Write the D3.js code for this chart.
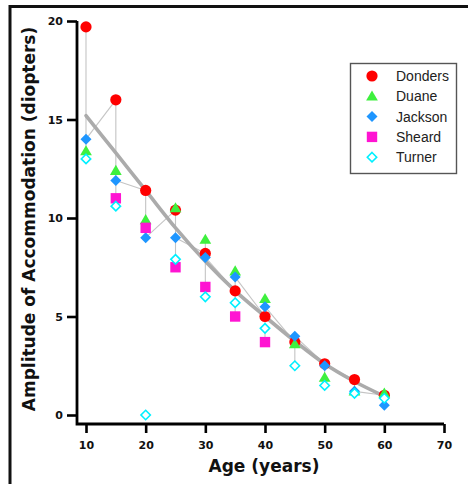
<!DOCTYPE html>
<html>
<head>
<meta charset="utf-8">
<script src="https://cdn.jsdelivr.net/npm/d3@7"></script>
<style>
  html, body { margin: 0; padding: 0; background: #fff; }
  svg { display: block; }
</style>
</head>
<body>
<svg id="chart" width="468" height="484"></svg>
<script>
// 데이터
const ages = [10, 15, 20, 25, 30, 35, 40, 45, 50, 55, 60];
const donders = [19.7, 16.0, 11.4, 10.4, 8.2, 6.3, 5.0, 3.7, 2.6, 1.8, 1.0];
const duane = [13.4, 12.4, 9.9, 10.5, 8.9, 7.3, 5.9, 3.6, 1.9, 1.2, 1.1];
const jackson = [14.0, 11.9, 9.0, 9.0, 8.0, 7.0, 5.5, 4.0, 2.5, 1.2, 0.5];
const sheard = [null, 11.0, 9.5, 7.5, 6.5, 5.0, 3.7, null, null, null, null];
const turner = [13.0, 10.6, 0.0, 7.9, 6.0, 5.7, 4.4, 2.5, 1.5, 1.1, 0.85];
const fit = [15.2, 13.3, 11.4, 9.5, 7.8, 6.3, 5.0, 3.75, 2.6, 1.7, 0.95];

const seriesNames = ['Donders', 'Duane', 'Jackson', 'Sheard', 'Turner'];
const xTicks = [10, 20, 30, 40, 50, 60, 70];
const yTicks = [0, 5, 10, 15, 20];

const svg = d3.select('#chart');

// 스케일
const x = d3.scaleLinear().domain([10, 70]).range([86, 444]);
const y = d3.scaleLinear().domain([0, 20]).range([415, 21]);

// 바깥 테두리
svg.append('rect')
  .attr('x', 10).attr('y', 6.5)
  .attr('width', 520).attr('height', 520)
  .style('fill', 'none')
  .style('stroke', '#111')
  .style('stroke-width', 3);

// 심볼 모양
const shapes = {
  circle: r => d3.symbol(d3.symbolCircle, Math.PI * r * r)(),
  triangle: r => `M0,${-r * 1.05}L${r * 1.05},${r * 0.75}L${-r * 1.05},${r * 0.75}Z`,
  diamond: r => `M0,${-r}L${r},0L0,${r}L${-r},0Z`,
  square: r => `M${-r},${-r}H${r}V${r}H${-r}Z`
};

const styles = [
  { name: 'Donders', values: donders, shape: shapes.circle(5.6), fill: '#ff0000', stroke: 'none' },
  { name: 'Duane', values: duane, shape: shapes.triangle(5.6), fill: '#3ef03e', stroke: 'none' },
  { name: 'Jackson', values: jackson, shape: shapes.diamond(5.5), fill: '#1e96ff', stroke: 'none' },
  { name: 'Sheard', values: sheard, shape: shapes.square(5.2), fill: '#ff14d2', stroke: 'none' },
  { name: 'Turner', values: turner, shape: shapes.diamond(4.7), fill: '#fff', stroke: '#00f0ff' }
];

// 얇은 회색 선 (나이별 범위 + 연결선)
const thin = svg.append('g')
  .style('stroke', '#c4c4c4')
  .style('stroke-width', 1.1)
  .style('fill', 'none');

ages.forEach((a, i) => {
  const vals = styles.map(s => s.values[i]).filter(v => v !== null && v > 0.01);
  thin.append('line')
    .attr('x1', x(a)).attr('x2', x(a))
    .attr('y1', y(d3.max(vals))).attr('y2', y(d3.min(vals)));
  if (i < ages.length - 1) {
    thin.append('line')
      .attr('x1', x(a)).attr('y1', y(jackson[i]))
      .attr('x2', x(ages[i + 1])).attr('y2', y(donders[i + 1]));
  }
});

// 근사 곡선
svg.append('path')
  .datum(ages.map((a, i) => [a, fit[i]]))
  .attr('d', d3.line().x(d => x(d[0])).y(d => y(d[1])).curve(d3.curveMonotoneX))
  .style('fill', 'none')
  .style('stroke', '#ababab')
  .style('stroke-width', 3.6)
  .style('stroke-linecap', 'round');

// 점
styles.forEach(s => {
  svg.append('g')
    .selectAll('path')
    .data(ages.map((a, i) => [a, s.values[i]]).filter(d => d[1] !== null))
    .join('path')
    .attr('transform', d => `translate(${x(d[0])},${y(d[1])})`)
    .attr('d', s.shape)
    .style('fill', s.fill)
    .style('stroke', s.stroke)
    .style('stroke-width', s.stroke === 'none' ? 0 : 1.6);
});

// 축
const axisFont = 'DejaVu Sans, sans-serif';

const yAxis = svg.append('g')
  .attr('transform', 'translate(77,0)')
  .call(d3.axisLeft(y).tickValues(yTicks).tickSize(10).tickPadding(4));
yAxis.select('.domain').remove();

const xAxis = svg.append('g')
  .attr('transform', 'translate(0,424)')
  .call(d3.axisBottom(x).tickValues(xTicks).tickSize(9).tickPadding(8));
xAxis.select('.domain').remove();

[yAxis, xAxis].forEach(g => {
  g.selectAll('line').style('stroke', '#000').style('stroke-width', 2.6);
  g.selectAll('text')
    .style('font-family', axisFont)
    .style('font-size', '11px')
    .style('font-weight', 'bold')
    .style('fill', '#111');
});

svg.append('path')
  .attr('d', `M77,${y(20)}V424H444`)
  .style('fill', 'none')
  .style('stroke', '#000')
  .style('stroke-width', 2.8);

// 축 제목
svg.append('text')
  .attr('x', 264).attr('y', 472)
  .style('text-anchor', 'middle')
  .style('font-family', axisFont)
  .style('font-size', '17px')
  .style('font-weight', 'bold')
  .style('fill', '#111')
  .text('Age (years)');

svg.append('text')
  .attr('transform', 'translate(35,219) rotate(-90)')
  .style('text-anchor', 'middle')
  .style('font-family', axisFont)
  .style('font-size', '17px')
  .style('font-weight', 'bold')
  .style('fill', '#111')
  .text('Amplitude of Accommodation (diopters)');

// 범례
const legend = svg.append('g');
legend.append('rect')
  .attr('x', 350.5).attr('y', 63.5)
  .attr('width', 106).attr('height', 110)
  .style('fill', '#fff')
  .style('stroke', '#555')
  .style('stroke-width', 1.4);

styles.forEach((s, i) => {
  const ly = 76 + i * 20.3;
  legend.append('path')
    .attr('transform', `translate(372,${ly})`)
    .attr('d', s.shape)
    .style('fill', s.fill)
    .style('stroke', s.stroke)
    .style('stroke-width', s.stroke === 'none' ? 0 : 1.6);
  legend.append('text')
    .attr('x', 396).attr('y', ly)
    .attr('dy', '0.36em')
    .style('font-family', 'Liberation Sans, Arial, sans-serif')
    .style('font-size', '14px')
    .style('fill', '#222')
    .text(seriesNames[i]);
});
</script>
</body>
</html>
